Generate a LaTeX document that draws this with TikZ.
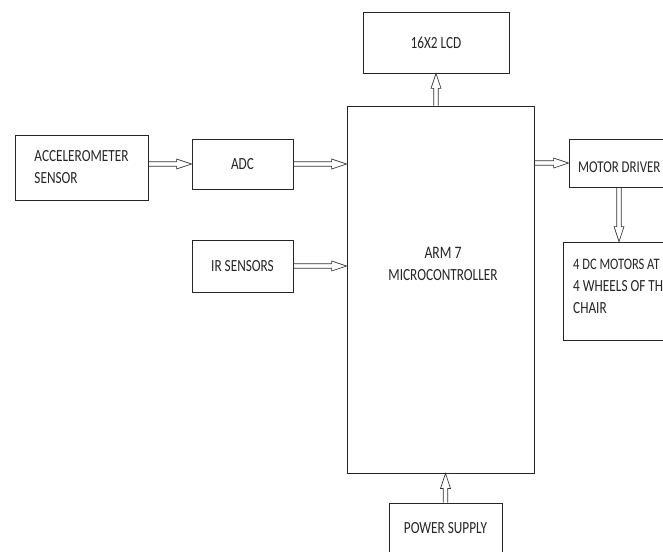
\documentclass[tikz,border=0pt]{standalone}
\usepackage{fontspec}
\setmainfont{Carlito}[FakeStretch=0.78]
\usetikzlibrary{calc}
\tikzset{
  blk/.style={draw=black!85, line width=0.8pt, inner sep=0pt, text=black!85},
  txt/.style={inner sep=0pt, text=black!85, align=center},
  ltxt/.style={inner sep=0pt, text=black!85, align=left, anchor=west},
  harrow/.style={draw=black!80, line width=0.7pt, line join=miter,
    to path={
      ($(\tikztostart)!2.2pt!90:(\tikztotarget)$)
      -- ($(\tikztotarget)!15.16pt!-8.34:(\tikztostart)$)
      -- ($(\tikztotarget)!15.81pt!-18.43:(\tikztostart)$)
      -- (\tikztotarget)
      -- ($(\tikztotarget)!15.81pt!18.43:(\tikztostart)$)
      -- ($(\tikztotarget)!15.16pt!8.34:(\tikztostart)$)
      -- ($(\tikztostart)!2.2pt!-90:(\tikztotarget)$)
    }}
}
\begin{document}
\begin{tikzpicture}[x=1pt,y=-1pt]
\useasboundingbox (0,0) rectangle (663,551);
\fill[white] (0,0) rectangle (663,551);
\clip (0,0) rectangle (663,551);
\fontsize{17}{22}\selectfont
% boxes
\node[blk, minimum width=133pt, minimum height=65pt, align=left] (acc) at (81.5,167.5)
  {\fontsize{17}{22}\selectfont ACCELEROMETER\\SENSOR};
\node[blk, minimum width=101pt, minimum height=50pt] (adc) at (242.5,164) {ADC};
\node[blk, minimum width=101pt, minimum height=52pt] (ir) at (242.5,266) {IR SENSORS};
\node[blk, minimum width=187pt, minimum height=367pt] (mc) at (440.5,289.5) {};
\node[txt] (mctext) at (443,264) {\fontsize{17.5}{15.5}\selectfont ARM 7\\MICROCONTROLLER};
\node[blk, minimum width=146pt, minimum height=61pt] (lcd) at (436,42.5) {16X2 LCD};
\node[blk, minimum width=113pt, minimum height=50pt] (ps) at (445.5,528) {POWER SUPPLY};
\node[blk, minimum width=100pt, minimum height=48pt] (md) at (619,163) {};
\node[ltxt] (mdtext) at (578,167) {\fontsize{16.5}{20}\selectfont MOTOR DRIVER};
\node[blk, minimum width=112pt, minimum height=98pt] (dc) at (619,291) {};
\node[ltxt] (dctext) at (573,286.5) {\fontsize{16}{19.5}\selectfont 4 DC MOTORS AT\\4 WHEELS OF THE\\CHAIR};
% connectors
\draw[harrow] (acc.east |- adc.west) to (adc.west);
\draw[harrow] (adc.east) to (adc.east -| mc.west);
\draw[harrow] (ir.east) to (ir.east -| mc.west);
\draw[harrow] (md.west -| mc.east) to (md.west);
\draw[harrow] (lcd.south |- mc.north) to (lcd.south);
\draw[harrow] (ps.north) to (ps.north |- mc.south);
\draw[harrow] (md.south) to (md.south |- dc.north);
\end{tikzpicture}
\end{document}
